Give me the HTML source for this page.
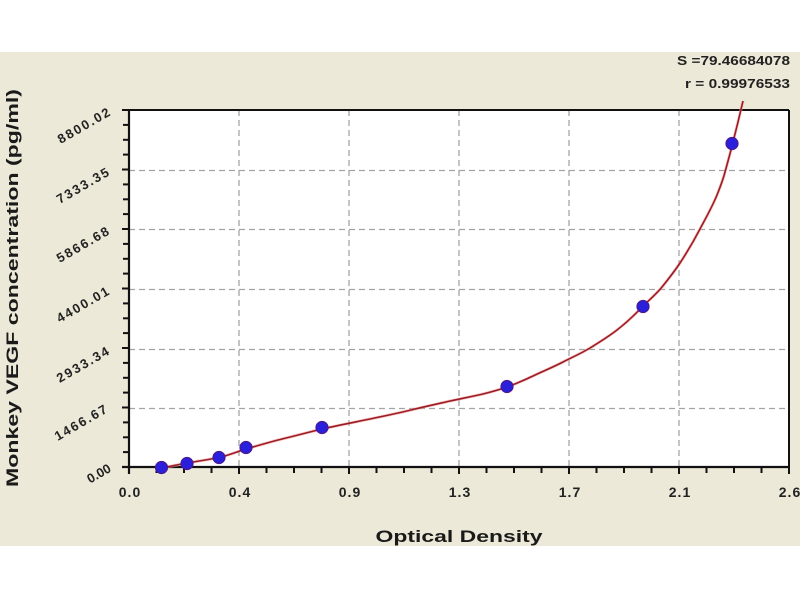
<!DOCTYPE html>
<html>
<head>
<meta charset="utf-8">
<style>
  html,body{margin:0;padding:0;background:#fff;}
  svg{display:block;}
  text{font-family:"Liberation Sans", Arial, sans-serif;}
</style>
</head>
<body>
<svg width="800" height="600" viewBox="0 0 800 600" xmlns="http://www.w3.org/2000/svg">
  <rect x="0" y="0" width="800" height="600" fill="#ffffff"/>
  <rect x="0" y="52" width="800" height="494" fill="#ECE9D8"/>
  <!-- plot area -->
  <rect x="129" y="110" width="660" height="357" fill="#ffffff"/>

  <!-- grid -->
  <g stroke="#a4a4a4" stroke-width="1.3" stroke-dasharray="6,4" fill="none">
    <line x1="129" y1="408.5" x2="789" y2="408.5"/>
    <line x1="129" y1="349.5" x2="789" y2="349.5"/>
    <line x1="129" y1="289.5" x2="789" y2="289.5"/>
    <line x1="129" y1="229.5" x2="789" y2="229.5"/>
    <line x1="129" y1="170.5" x2="789" y2="170.5"/>
    <line x1="239" y1="110" x2="239" y2="467"/>
    <line x1="349" y1="110" x2="349" y2="467"/>
    <line x1="459" y1="110" x2="459" y2="467"/>
    <line x1="569" y1="110" x2="569" y2="467"/>
    <line x1="679" y1="110" x2="679" y2="467"/>
  </g>

  <!-- axes / border -->
  <g stroke="#111" fill="none">
    <line x1="122" y1="110" x2="789" y2="110" stroke-width="2"/>
    <line x1="789" y1="110" x2="789" y2="468" stroke-width="2"/>
    <line x1="129" y1="109" x2="129" y2="474" stroke-width="2.2"/>
    <line x1="122" y1="467" x2="790" y2="467" stroke-width="2.2"/>
  </g>

  <!-- y ticks -->
  <g stroke="#111" stroke-width="2">
    <line x1="122" y1="467" x2="129" y2="467"/>
    <line x1="123" y1="452.1" x2="129" y2="452.1"/>
    <line x1="123" y1="437.3" x2="129" y2="437.3"/>
    <line x1="123" y1="422.4" x2="129" y2="422.4"/>
    <line x1="122" y1="407.5" x2="129" y2="407.5"/>
    <line x1="123" y1="392.6" x2="129" y2="392.6"/>
    <line x1="123" y1="377.8" x2="129" y2="377.8"/>
    <line x1="123" y1="362.9" x2="129" y2="362.9"/>
    <line x1="122" y1="348" x2="129" y2="348"/>
    <line x1="123" y1="333.1" x2="129" y2="333.1"/>
    <line x1="123" y1="318.3" x2="129" y2="318.3"/>
    <line x1="123" y1="303.4" x2="129" y2="303.4"/>
    <line x1="122" y1="288.5" x2="129" y2="288.5"/>
    <line x1="123" y1="273.6" x2="129" y2="273.6"/>
    <line x1="123" y1="258.8" x2="129" y2="258.8"/>
    <line x1="123" y1="243.9" x2="129" y2="243.9"/>
    <line x1="122" y1="229" x2="129" y2="229"/>
    <line x1="123" y1="214.1" x2="129" y2="214.1"/>
    <line x1="123" y1="199.3" x2="129" y2="199.3"/>
    <line x1="123" y1="184.4" x2="129" y2="184.4"/>
    <line x1="122" y1="169.5" x2="129" y2="169.5"/>
    <line x1="123" y1="154.6" x2="129" y2="154.6"/>
    <line x1="123" y1="139.8" x2="129" y2="139.8"/>
    <line x1="123" y1="124.9" x2="129" y2="124.9"/>
  </g>

  <!-- x ticks -->
  <g stroke="#111" stroke-width="2">
    <line x1="129" y1="467" x2="129" y2="474"/>
    <line x1="156.5" y1="467" x2="156.5" y2="473"/>
    <line x1="184" y1="467" x2="184" y2="473"/>
    <line x1="211.5" y1="467" x2="211.5" y2="473"/>
    <line x1="239" y1="467" x2="239" y2="474"/>
    <line x1="266.5" y1="467" x2="266.5" y2="473"/>
    <line x1="294" y1="467" x2="294" y2="473"/>
    <line x1="321.5" y1="467" x2="321.5" y2="473"/>
    <line x1="349" y1="467" x2="349" y2="474"/>
    <line x1="376.5" y1="467" x2="376.5" y2="473"/>
    <line x1="404" y1="467" x2="404" y2="473"/>
    <line x1="431.5" y1="467" x2="431.5" y2="473"/>
    <line x1="459" y1="467" x2="459" y2="474"/>
    <line x1="486.5" y1="467" x2="486.5" y2="473"/>
    <line x1="514" y1="467" x2="514" y2="473"/>
    <line x1="541.5" y1="467" x2="541.5" y2="473"/>
    <line x1="569" y1="467" x2="569" y2="474"/>
    <line x1="596.5" y1="467" x2="596.5" y2="473"/>
    <line x1="624" y1="467" x2="624" y2="473"/>
    <line x1="651.5" y1="467" x2="651.5" y2="473"/>
    <line x1="679" y1="467" x2="679" y2="474"/>
    <line x1="706.5" y1="467" x2="706.5" y2="473"/>
    <line x1="734" y1="467" x2="734" y2="473"/>
    <line x1="761.5" y1="467" x2="761.5" y2="473"/>
    <line x1="789" y1="467" x2="789" y2="474"/>
  </g>

  <!-- x tick labels -->
  <g font-size="14" font-weight="bold" fill="#222" text-anchor="middle" letter-spacing="1">
    <text x="130" y="497">0.0</text>
    <text x="240" y="497">0.4</text>
    <text x="350" y="497">0.9</text>
    <text x="460" y="497">1.3</text>
    <text x="570" y="497">1.7</text>
    <text x="680" y="497">2.1</text>
    <text x="790" y="497">2.6</text>
  </g>

  <!-- y tick labels (slanted) -->
  <g font-size="13" font-weight="bold" fill="#222" text-anchor="end">
    <text transform="translate(112,471) rotate(-30)">0.00</text>
    <text transform="translate(108,412) rotate(-30)" textLength="58" lengthAdjust="spacing">1466.67</text>
    <text transform="translate(110,354) rotate(-30)" textLength="58" lengthAdjust="spacing">2933.34</text>
    <text transform="translate(110,294) rotate(-30)" textLength="58" lengthAdjust="spacing">4400.01</text>
    <text transform="translate(110,234) rotate(-30)" textLength="58" lengthAdjust="spacing">5866.68</text>
    <text transform="translate(110,175) rotate(-30)" textLength="58" lengthAdjust="spacing">7333.35</text>
    <text transform="translate(111,115) rotate(-30)" textLength="58" lengthAdjust="spacing">8800.02</text>
  </g>

  <!-- axis titles -->
  <text x="459" y="542" font-size="17" font-weight="bold" fill="#1a1a1a" text-anchor="middle" textLength="167" lengthAdjust="spacingAndGlyphs">Optical Density</text>
  <text transform="translate(18,288) rotate(-90)" font-size="17" font-weight="bold" fill="#1a1a1a" text-anchor="middle" textLength="398" lengthAdjust="spacingAndGlyphs">Monkey VEGF concentration (pg/ml)</text>

  <!-- stats -->
  <g font-size="13" font-weight="bold" fill="#222" text-anchor="end">
    <text x="790" y="65" textLength="113" lengthAdjust="spacingAndGlyphs">S =79.46684078</text>
    <text x="790" y="88" textLength="105" lengthAdjust="spacingAndGlyphs">r = 0.99976533</text>
  </g>

  <!-- fitted curve (smooth cubic Bezier through sampled points) -->
  <path id="halo" fill="none" stroke="#f0a0a0" stroke-width="3" stroke-linejoin="round" opacity="0.6"
    d="M158,468.5 C168,466.8 177,464.8 187,463 C198,461.2 208,459.6 219,457.5 C228,455.5 237,451.8 246,449 C259,445.2 271,441.7 284,438.5 C297,435.4 309,432.1 322,429 C338,425.4 354,422.3 370,419 C385,415.9 399,413 413,409.5 C426,406.3 438,403.8 450,401 C461,398.5 472,396.6 483,394 C491,392 499,389.8 507,387 C516,383.7 524,380.3 533,376 C543,371.2 553,367.2 563,362 C572,357.3 581,353.5 590,348 C599,342.4 608,337 617,330 C626,323 635,314.6 643,306 C650,299.3 656,294.4 662,287 C668,279.6 674,272 680,263 C687,252.3 694,240.5 700,229 C706,217.6 712,207.3 717,195 C720,187.4 723,180 725,172 C727.5,163 729.8,154.7 732,146 C734,138 736,130 738,122 C739.7,115 741.3,108 743,101"/>
  <path id="curve" fill="none" stroke="#9c1c24" stroke-width="1.6" stroke-linejoin="round"
    d="M158,468.5 C168,466.8 177,464.8 187,463 C198,461.2 208,459.6 219,457.5 C228,455.5 237,451.8 246,449 C259,445.2 271,441.7 284,438.5 C297,435.4 309,432.1 322,429 C338,425.4 354,422.3 370,419 C385,415.9 399,413 413,409.5 C426,406.3 438,403.8 450,401 C461,398.5 472,396.6 483,394 C491,392 499,389.8 507,387 C516,383.7 524,380.3 533,376 C543,371.2 553,367.2 563,362 C572,357.3 581,353.5 590,348 C599,342.4 608,337 617,330 C626,323 635,314.6 643,306 C650,299.3 656,294.4 662,287 C668,279.6 674,272 680,263 C687,252.3 694,240.5 700,229 C706,217.6 712,207.3 717,195 C720,187.4 723,180 725,172 C727.5,163 729.8,154.7 732,146 C734,138 736,130 738,122 C739.7,115 741.3,108 743,101"/>

  <!-- data points -->
  <g fill="#2a20dc" stroke="#4a1890" stroke-width="1.2">
    <circle cx="161.5" cy="467.5" r="6"/>
    <circle cx="187" cy="463.5" r="6"/>
    <circle cx="219" cy="457.5" r="6"/>
    <circle cx="246" cy="447.5" r="6"/>
    <circle cx="322" cy="427.5" r="6"/>
    <circle cx="507" cy="386.5" r="6"/>
    <circle cx="643" cy="306.5" r="6"/>
    <circle cx="732" cy="143.5" r="6"/>
  </g>

  <script>
  (function(){
    var p=[[158,468.5],[187,463],[219,457.5],[246,449],[284,438.5],[322,429],[370,419],[413,409.5],[450,401],[483,394],[507,387],[533,376],[563,362],[590,348],[617,330],[643,306],[662,287],[680,263],[700,229],[717,195],[725,172],[732,146],[738,122],[743,101]];
    var d="M"+p[0][0]+","+p[0][1];
    for(var i=0;i<p.length-1;i++){
      var p0=p[i>0?i-1:i],p1=p[i],p2=p[i+1],p3=p[i+2<p.length?i+2:i+1];
      var c1x=p1[0]+(p2[0]-p0[0])/6,c1y=p1[1]+(p2[1]-p0[1])/6;
      var c2x=p2[0]-(p3[0]-p1[0])/6,c2y=p2[1]-(p3[1]-p1[1])/6;
      d+=" C"+c1x.toFixed(2)+","+c1y.toFixed(2)+" "+c2x.toFixed(2)+","+c2y.toFixed(2)+" "+p2[0]+","+p2[1];
    }
    document.getElementById("curve").setAttribute("d",d);
    document.getElementById("halo").setAttribute("d",d);
  })();
  </script>
</svg>
</body>
</html>
